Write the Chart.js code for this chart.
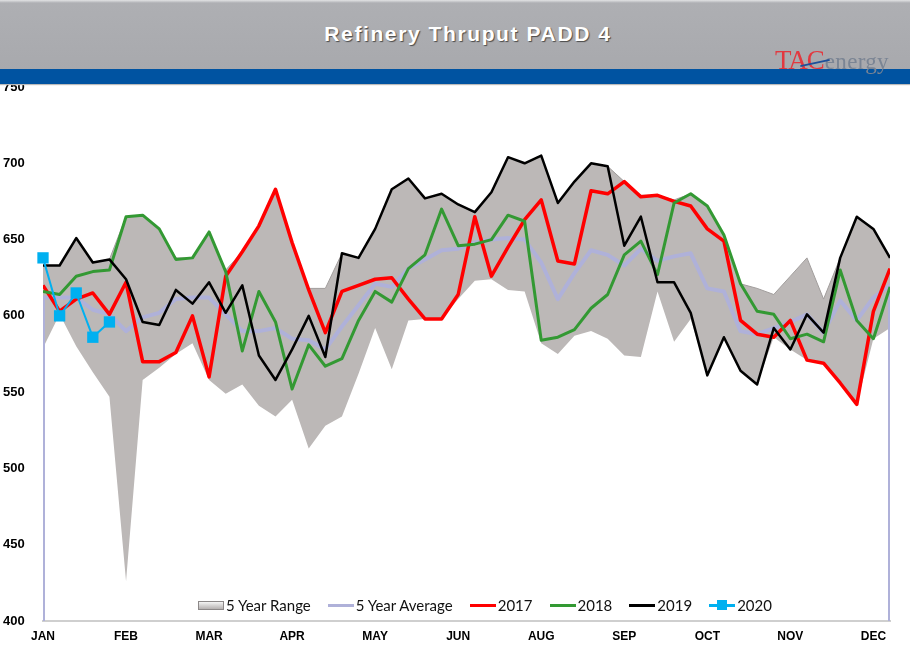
<!DOCTYPE html>
<html><head><meta charset="utf-8">
<script src="https://cdn.jsdelivr.net/npm/chart.js@4"></script>
<style>
html,body{margin:0;padding:0;background:#fff;width:910px;height:659px;overflow:hidden;}
#wrap{position:relative;width:910px;height:659px;}
#c{position:absolute;left:0;top:0;}
#hdr{position:absolute;left:0;top:0;width:910px;height:70px;background:linear-gradient(#e2e3e5 0px,#aeafb3 3px,#a8a9ad 100%);z-index:2;}
#band{position:absolute;left:0;top:69px;width:910px;height:15px;background:#0053a1;z-index:2;box-shadow:0 1px 1px #bbb;}
#title{position:absolute;left:26px;width:884px;top:22px;text-align:center;font:bold 21px "Liberation Sans Narrow","Liberation Sans",Arial,sans-serif;color:#fff;letter-spacing:1.6px;text-shadow:1px 1px 1px #4a4a4a;z-index:3;}
#logo{position:absolute;left:775px;top:45px;z-index:4;white-space:nowrap;}
#logo .tac{font:27px "Liberation Serif","DejaVu Serif",serif;color:#e2383f;letter-spacing:-1px;}
#logo .en{font:23px "Liberation Serif","DejaVu Serif",serif;color:#7b8594;letter-spacing:0.3px;margin-left:1px;}
#swoosh{position:absolute;left:800px;top:62px;width:30px;height:2px;background:#1d4f9a;transform:rotate(-12deg);z-index:5;}
#legend{position:absolute;top:596px;left:198px;z-index:2;display:flex;align-items:center;font:15px Lato,"Open Sans",sans-serif;color:#111;height:18px;}
#legend .it{display:flex;align-items:center;margin-right:17px;}
#legend .ln{display:inline-block;width:26px;height:3px;margin-right:2px;position:relative;}
#legend .box{display:inline-block;width:24px;height:7px;margin-right:2px;background:linear-gradient(#f4f4f4,#b5b1b0);border:1px solid #8c8888;}
#legend .sq{position:absolute;left:8px;top:-4px;width:10px;height:10px;background:#00b0f0;}
</style>
</head><body>
<div id="wrap">
  <div id="hdr"></div>
  <div id="title">Refinery Thruput PADD 4</div>
  <div id="band"></div>
  <div id="logo"><span class="tac">TAC</span><span class="en">energy</span></div>
  <div id="swoosh"></div>
  <canvas id="c" width="910" height="659"></canvas>
  <div id="legend">
    <span class="it"><span class="box"></span>5 Year Range</span>
    <span class="it"><span class="ln" style="background:#afb1d9"></span>5 Year Average</span>
    <span class="it"><span class="ln" style="background:#ff0000"></span>2017</span>
    <span class="it"><span class="ln" style="background:#339933"></span>2018</span>
    <span class="it"><span class="ln" style="background:#000"></span>2019</span>
    <span class="it"><span class="ln" style="background:#00b0f0"><span class="sq"></span></span>2020</span>
  </div>
</div>
<script>
const monthLabels = ['JAN','FEB','MAR','APR','MAY','JUN','AUG','SEP','OCT','NOV','DEC'];
const monthWeeks = [0,5,10,15,20,25,30,35,40,45,50];
const yTicks = [400,450,500,550,600,650,700,750];

const rangeUpper = [633,633,651,635,637,665,666,657,638,638,655,630,642,659,683,648,618,618,641,638,657,683,690,677,680,673,668,681,704,700,705,674,688,700,698,688,679,679,676,680,672,653,621,618,614,626,638,611,638,665,657,638];
const rangeLower = [579,601,580,563,547,426,558,566,575,582,558,549,555,541,534,545,513,528,534,562,592,565,597,598,598,611,623,624,617,616,582,575,587,590,585,574,573,616,583,598,561,586,564,555,586,578,571,569,556,542,585,592];
const avg5 = [612,612,612,604,601,590,599,602,611,612,612,601,590,590,592,585,584,578,593,607,621,619,631,637,643,644,648,650,651,650,635,611,628,643,640,633,644,636,639,641,618,616,590,588,592,596,601,589,610,597,612,620];
const y2017 = [620,603,611,615,601,622,570,570,576,600,560,626,642,659,683,648,617,589,616,620,624,625,611,598,598,614,665,626,645,663,676,636,634,682,680,688,678,679,675,672,657,649,597,588,586,597,571,569,556,542,603,631];
const y2018 = [616,614,626,629,630,665,666,657,637,638,655,629,577,616,596,552,581,567,572,597,616,609,631,640,670,646,647,650,666,662,584,586,591,605,614,640,649,627,674,680,672,653,621,603,601,585,588,583,630,597,585,619];
const y2019 = [633,633,651,635,637,624,596,594,617,608,622,602,620,574,558,578,600,573,641,638,657,683,690,677,680,673,668,681,704,700,705,674,688,700,698,646,665,622,622,602,561,586,564,555,592,578,601,589,638,665,657,638];
const y2020 = [638,600,615,586,596];

const xy = a => a.map((v,i)=>({x:i,y:v}));
const yMin = yTicks[0], yMax = yTicks[yTicks.length-1];
const lastW = avg5.length-1;
const avgPts = [{x:0,y:yMin}].concat(xy(avg5), [{x:lastW,y:yMin}]);

new Chart(document.getElementById('c'), {
  type:'line',
  data:{datasets:[
    {label:'5 Year Range', data:xy(rangeUpper), borderColor:'#a19d9c', borderWidth:1, backgroundColor:'#bcb8b7', fill:'+1', pointRadius:0, order:6, tension:0},
    {label:'5 Year Range low', data:xy(rangeLower), borderColor:'rgba(0,0,0,0)', borderWidth:0, pointRadius:0, fill:false, order:7, tension:0},
    {label:'5 Year Average', data:avgPts, borderColor:'#afb1d9', borderWidth:4, pointRadius:0, fill:false, order:5, tension:0, borderJoinStyle:'round'},
    {label:'2017', data:xy(y2017), borderColor:'#ff0000', borderWidth:3.5, pointRadius:0, fill:false, order:4, tension:0, borderJoinStyle:'round'},
    {label:'2018', data:xy(y2018), borderColor:'#339933', borderWidth:3, pointRadius:0, fill:false, order:3, tension:0, borderJoinStyle:'round'},
    {label:'2019', data:xy(y2019), borderColor:'#000000', borderWidth:2.5, pointRadius:0, fill:false, order:2, tension:0, borderJoinStyle:'round'},
    {label:'2020', data:xy(y2020), borderColor:'#00b0f0', borderWidth:2, backgroundColor:'#00b0f0', pointStyle:'rect', pointRadius:8, pointBorderWidth:0, fill:false, order:1, tension:0, clip:false}
  ]},
  options:{
    responsive:false, animation:false, events:[],
    layout:{padding:{left:3,right:20,top:87,bottom:0}},
    plugins:{legend:{display:false}, tooltip:{enabled:false}},
    scales:{
      x:{type:'linear', min:0, max:lastW,
        grid:{display:false, drawTicks:false},
        border:{display:true, color:'#cfcfcf', width:2},
        afterBuildTicks:s=>{s.ticks = monthWeeks.map(v=>({value:v}));},
        afterFit:s=>{s.height = 38;},
        ticks:{autoSkip:false, maxRotation:0, padding:8, color:'#000', font:{family:'"Liberation Sans",Arial,sans-serif', size:12, weight:'bold'},
          callback:v=>{const k=monthWeeks.indexOf(v); return k>=0?monthLabels[k]:'';}}
      },
      y:{min:yMin, max:yMax,
        grid:{display:false, drawTicks:false},
        border:{display:false},
        afterBuildTicks:s=>{s.ticks = yTicks.map(v=>({value:v}));},
        afterFit:s=>{s.width = 40;},
        ticks:{crossAlign:'far', padding:0, color:'#000', font:{family:'"Liberation Sans",Arial,sans-serif', size:13, weight:'bold'}}
      }
    }
  }
});
</script>
</body></html>
